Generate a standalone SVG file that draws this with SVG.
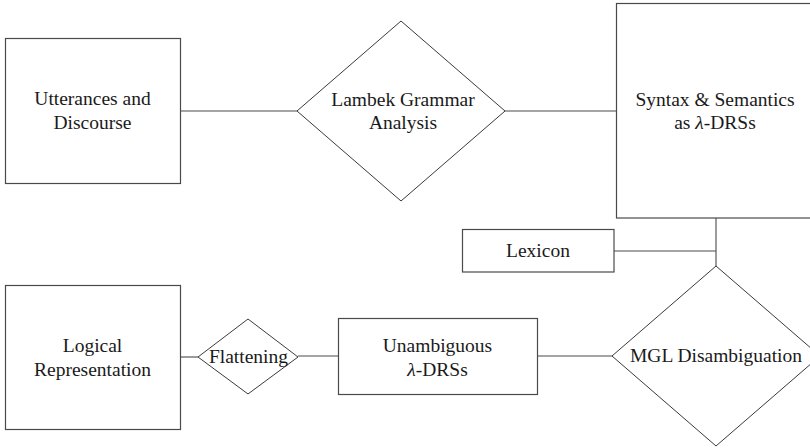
<svg xmlns="http://www.w3.org/2000/svg" width="810" height="448" viewBox="0 0 810 448">
<style>
.box{fill:#fff;stroke:#4a4a4a;stroke-width:1.2}
.dia{fill:#fff;stroke:#3a3a3a;stroke-width:1}
.edge{fill:none;stroke:#4a4a4a;stroke-width:1.1}
text{font-family:"Liberation Serif","Times New Roman",serif;font-size:19.5px;fill:#1a1a1a;text-anchor:middle}
.lam{font-style:italic}
</style>
<rect width="810" height="448" fill="#fff"/>
<g id="connectors">
<line class="edge" x1="180" y1="111" x2="297" y2="111"/>
<line class="edge" x1="505" y1="111" x2="617" y2="111"/>
<line class="edge" x1="716" y1="218" x2="716" y2="266"/>
<line class="edge" x1="614" y1="251" x2="716" y2="251"/>
<line class="edge" x1="537" y1="356" x2="612" y2="356"/>
<line class="edge" x1="298" y1="356" x2="338" y2="356"/>
<line class="edge" x1="180" y1="357" x2="198" y2="357"/>
</g>
<g id="utterances">
<rect class="box" x="5.5" y="38.5" width="175" height="145"/>
<text x="92.5" y="105">Utterances and</text>
<text x="92.5" y="129">Discourse</text>
</g>
<g id="lambek">
<polygon class="dia" points="401,21 505,111 401,201 297,111"/>
<text x="403" y="106">Lambek Grammar</text>
<text x="403" y="129">Analysis</text>
</g>
<g id="syntax">
<rect class="box" x="616.5" y="3.5" width="200" height="214.5"/>
<text x="715" y="106">Syntax &amp; Semantics</text>
<text x="715" y="129">as <tspan class="lam">λ</tspan>-DRSs</text>
</g>
<g id="lexicon">
<rect class="box" x="462.5" y="229.5" width="151.5" height="42.5"/>
<text x="538" y="257">Lexicon</text>
</g>
<g id="mgl">
<polygon class="dia" points="716,266 820,356 716,446 612,356"/>
<text x="716" y="362">MGL Disambiguation</text>
</g>
<g id="unambiguous">
<rect class="box" x="338.5" y="318.5" width="199" height="76"/>
<text x="437.5" y="352">Unambiguous</text>
<text x="437.5" y="376"><tspan class="lam">λ</tspan>-DRSs</text>
</g>
<g id="flattening">
<polygon class="dia" points="248,319 298,357 248,394 198,357"/>
<text x="248.5" y="363">Flattening</text>
</g>
<g id="logical">
<rect class="box" x="5.5" y="285.5" width="175" height="144"/>
<text x="92.5" y="352">Logical</text>
<text x="92.5" y="376">Representation</text>
</g>
</svg>
